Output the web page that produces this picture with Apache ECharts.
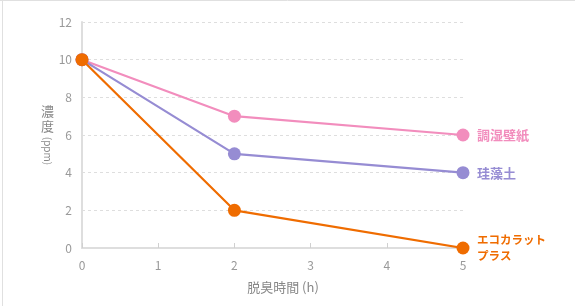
<!DOCTYPE html>
<html><head><meta charset="utf-8">
<script src="https://cdn.jsdelivr.net/npm/echarts@6/dist/echarts.min.js"></script>
<style>html,body{margin:0;padding:0;background:#fff}#c{width:575px;height:306px}</style>
</head><body><div id="c"></div>
<script>
const hours = [0, 2, 5];
const seriesNames = ['調湿壁紙', '珪藻土', 'エコカラット\nプラス'];
const wallpaper = [10, 7, 6];
const diatomite = [10, 5, 4];
const ecocarat = [10, 2, 0];
const yTicks = [0, 2, 4, 6, 8, 10, 12];
const xTicks = [0, 1, 2, 3, 4, 5];
const xName = '脱臭時間 (h)';
const yNameChars = '濃\n度';
const yNameUnit = '(ppm)';

const font = '"Noto Sans CJK JP", "Noto Sans", sans-serif';
const colors = ['#f28dbd', '#968cd3', '#ef6c00'];
const values = [wallpaper, diatomite, ecocarat];
const labelSizes = [13, 13, 11.5];

const chart = echarts.init(document.getElementById('c'), null, {renderer: 'canvas'});
chart.setOption({
  animation: false,
  grid: {left: 82, right: 112, top: 22, bottom: 58},
  xAxis: {
    type: 'value', min: xTicks[0], max: xTicks[xTicks.length - 1], interval: 1,
    axisLine: {show: true, lineStyle: {color: '#dedede', width: 2}},
    axisTick: {show: true, inside: true, length: 5, lineStyle: {color: '#d0d0d0'}},
    axisLabel: {color: '#999', fontSize: 12, fontFamily: font, margin: 11},
    splitLine: {show: false}
  },
  yAxis: {
    type: 'value', min: yTicks[0], max: yTicks[yTicks.length - 1], interval: 2,
    axisLine: {show: true, lineStyle: {color: '#dedede', width: 2}},
    axisTick: {show: false},
    axisLabel: {color: '#999', fontSize: 12, fontFamily: font, margin: 10},
    splitLine: {show: true, lineStyle: {color: '#dedede', type: [3, 3], width: 1}}
  },
  graphic: [
    {type: 'line', shape: {x1: 0, y1: 0.5, x2: 575, y2: 0.5}, style: {stroke: '#e0e0e0', lineWidth: 1}},
    {type: 'line', shape: {x1: 2.5, y1: 0, x2: 2.5, y2: 306}, style: {stroke: '#e0e0e0', lineWidth: 1}},
    {type: 'text', x: 283, y: 287, style: {text: xName, fill: '#888', font: '13px ' + font, textAlign: 'center', textVerticalAlign: 'middle'}},
    {type: 'text', left: 41, top: 104, style: {text: yNameChars, fill: '#888', fontSize: 13, fontFamily: font, lineHeight: 15}},
    {type: 'text', x: 48, y: 151, rotation: -Math.PI / 2, originX: 0, originY: 0, style: {text: yNameUnit, fill: '#888', fontSize: 10, fontFamily: font, textAlign: 'center', textVerticalAlign: 'middle'}}
  ],
  series: values.map((v, i) => ({
    type: 'line',
    name: seriesNames[i],
    data: hours.map((h, j) => [h, v[j]]),
    symbol: 'circle',
    symbolSize: 13,
    color: colors[i],
    lineStyle: {width: 2.2, color: colors[i]},
    itemStyle: {color: colors[i]},
    z: 2 + i,
    endLabel: {
      show: true, distance: 14,
      formatter: seriesNames[i],
      color: colors[i], fontSize: labelSizes[i], fontWeight: 'bold', fontFamily: font, lineHeight: 16
    }
  }))
});
</script></body></html>
